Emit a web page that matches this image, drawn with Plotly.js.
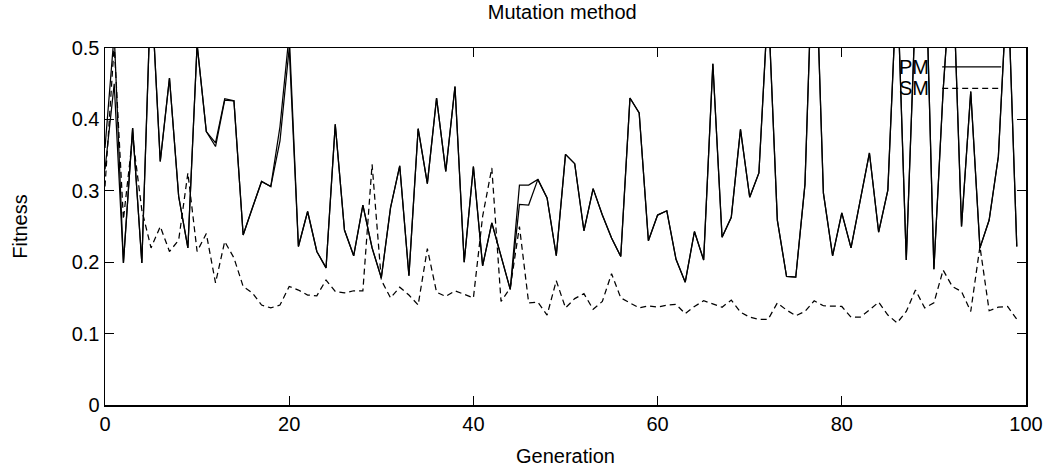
<!DOCTYPE html>
<html>
<head>
<meta charset="utf-8">
<script src="https://cdn.plot.ly/plotly-3.0.1.min.js"></script>
<style>html,body{margin:0;padding:0;background:#fff}#chart{width:1049px;height:468px}</style>
</head>
<body>
<div id="chart"></div>
<script>
// Generation index 0..99
var generations = [];
for (var i = 0; i < 100; i++) generations.push(i);

// PM (polynomial mutation) fitness, main run
var pmFitness = [
  0.36, 0.52, 0.199, 0.388, 0.199, 0.59, 0.341, 0.458, 0.292, 0.22,
  0.505, 0.383, 0.367, 0.429, 0.426, 0.238, 0.276, 0.313, 0.306, 0.39,
  0.52, 0.222, 0.271, 0.215, 0.192, 0.393, 0.245, 0.209, 0.28, 0.22,
  0.178, 0.276, 0.335, 0.181, 0.387, 0.31, 0.43, 0.327, 0.446, 0.2,
  0.334, 0.195, 0.255, 0.208, 0.162, 0.308, 0.308, 0.316, 0.29, 0.209,
  0.351, 0.338, 0.244, 0.303, 0.266, 0.234, 0.208, 0.43, 0.409, 0.23,
  0.266, 0.272, 0.204, 0.172, 0.243, 0.203, 0.478, 0.235, 0.263, 0.386,
  0.291, 0.325, 0.565, 0.259, 0.18, 0.179, 0.309, 0.7, 0.297, 0.209,
  0.269, 0.22, 0.288, 0.353, 0.242, 0.301, 0.6, 0.203, 0.56, 0.67,
  0.19, 0.44, 0.63, 0.25, 0.439, 0.22, 0.259, 0.348, 0.6, 0.222
];

// PM second curve (almost identical, differs at a few generations)
var pmFitness2 = [
  0.33, 0.45, 0.199, 0.388, 0.199, 0.59, 0.341, 0.458, 0.292, 0.22,
  0.505, 0.383, 0.362, 0.427, 0.426, 0.238, 0.276, 0.313, 0.306, 0.37,
  0.5, 0.222, 0.271, 0.215, 0.192, 0.393, 0.245, 0.209, 0.28, 0.22,
  0.178, 0.276, 0.335, 0.181, 0.387, 0.31, 0.43, 0.327, 0.446, 0.2,
  0.334, 0.195, 0.255, 0.208, 0.162, 0.281, 0.28, 0.316, 0.29, 0.209,
  0.351, 0.338, 0.244, 0.303, 0.266, 0.234, 0.208, 0.43, 0.409, 0.23,
  0.266, 0.272, 0.204, 0.172, 0.243, 0.203, 0.478, 0.235, 0.263, 0.386,
  0.291, 0.325, 0.565, 0.259, 0.18, 0.179, 0.309, 0.7, 0.297, 0.209,
  0.269, 0.22, 0.288, 0.353, 0.242, 0.301, 0.6, 0.203, 0.56, 0.67,
  0.19, 0.44, 0.63, 0.25, 0.439, 0.22, 0.259, 0.348, 0.6, 0.222
];

// SM fitness
var smFitness = [
  0.306, 0.505, 0.26, 0.376, 0.273, 0.22, 0.25, 0.215, 0.231, 0.325,
  0.215, 0.24, 0.171, 0.229, 0.206, 0.166, 0.157, 0.14, 0.136, 0.14,
  0.166, 0.161, 0.154, 0.153, 0.175, 0.159, 0.157, 0.16, 0.16, 0.337,
  0.175, 0.15, 0.165, 0.154, 0.14, 0.219, 0.158, 0.152, 0.16, 0.155,
  0.15, 0.264, 0.332, 0.145, 0.164, 0.25, 0.143, 0.144, 0.126, 0.174,
  0.136, 0.149, 0.156, 0.134, 0.145, 0.184, 0.15, 0.143, 0.136, 0.139,
  0.137, 0.14, 0.141, 0.128, 0.138, 0.146, 0.142, 0.137, 0.147, 0.13,
  0.123, 0.12, 0.12, 0.143, 0.133, 0.125, 0.131, 0.146, 0.139, 0.138,
  0.138, 0.123, 0.123, 0.133, 0.144, 0.126, 0.115, 0.131, 0.161, 0.136,
  0.143, 0.189, 0.166, 0.159, 0.131, 0.222, 0.132, 0.137, 0.138, 0.12
];

var xTicks = [0, 20, 40, 60, 80, 100];
var yTicks = [0, 0.1, 0.2, 0.3, 0.4, 0.5];
var yTickLabels = ["0", "0.1", "0.2", "0.3", "0.4", "0.5"];

var FONT = "Liberation Sans, Arial, Helvetica, sans-serif";
var FS = 20;

var traces = [
  {x: generations, y: pmFitness, type: "scatter", mode: "lines", name: "PM",
   line: {color: "#000", width: 1.25}, showlegend: false},
  {x: generations, y: pmFitness2, type: "scatter", mode: "lines", name: "PM",
   line: {color: "#000", width: 1.25}, showlegend: false},
  {x: generations, y: smFitness, type: "scatter", mode: "lines", name: "SM",
   line: {color: "#000", width: 1.25, dash: "6px,4px"}, showlegend: false}
];

var layout = {
  width: 1049, height: 468,
  margin: {l: 105, r: 23, t: 48, b: 63},
  paper_bgcolor: "#fff", plot_bgcolor: "#fff",
  font: {family: FONT, size: FS, color: "#000"},
  title: {text: "Mutation method", x: 0.536, xanchor: "center", y: 0.975, yanchor: "middle",
          font: {family: FONT, size: FS, color: "#000"}},
  showlegend: false,
  xaxis: {
    range: [0, 100], tickvals: xTicks, ticks: "inside", ticklen: 9, tickwidth: 1.3,
    tickcolor: "#000", showline: true, linecolor: "#000", linewidth: 1.5, mirror: "ticks",
    showgrid: false, zeroline: false, fixedrange: true, automargin: false,
    tickfont: {family: FONT, size: FS, color: "#000"},
    title: {text: "Generation", standoff: 15, font: {family: FONT, size: FS, color: "#000"}}
  },
  yaxis: {
    range: [0, 0.5], tickvals: yTicks, ticktext: yTickLabels, ticks: "inside", ticklen: 9, tickwidth: 1.3,
    tickcolor: "#000", showline: true, linecolor: "#000", linewidth: 1.5, mirror: "ticks",
    showgrid: false, zeroline: false, fixedrange: true, automargin: false,
    tickfont: {family: FONT, size: FS, color: "#000"},
    title: {text: "Fitness", standoff: 38, font: {family: FONT, size: FS, color: "#000"}}
  },
  annotations: [
    {xref: "paper", yref: "paper", x: 0.897, y: 0.948, xanchor: "right", yanchor: "middle",
     text: "PM", showarrow: false, font: {family: FONT, size: FS, color: "#000"}},
    {xref: "paper", yref: "paper", x: 0.897, y: 0.888, xanchor: "right", yanchor: "middle",
     text: "SM", showarrow: false, font: {family: FONT, size: FS, color: "#000"}}
  ],
  shapes: [
    {type: "line", xref: "paper", yref: "paper", x0: 0.909, x1: 0.973, y0: 0.947, y1: 0.947,
     line: {color: "#000", width: 1.1}},
    {type: "line", xref: "paper", yref: "paper", x0: 0.909, x1: 0.973, y0: 0.887, y1: 0.887,
     line: {color: "#000", width: 1.1, dash: "6px,4px"}}
  ]
};

Plotly.newPlot("chart", traces, layout, {staticPlot: true, displayModeBar: false});
</script>
</body>
</html>
